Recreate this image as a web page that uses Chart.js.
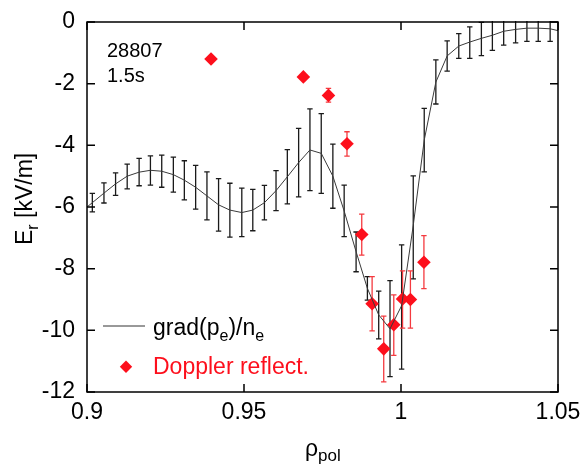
<!DOCTYPE html>
<html>
<head>
  <meta charset="UTF-8">
  <title>Er profile</title>
  <script src="https://cdn.jsdelivr.net/npm/chart.js"></script>
  <style>
    body { margin: 0; background: #fff; }
    canvas { display: block; }
  </style>
</head>
<body>
  <canvas id="erChart" width="581" height="466"></canvas>
  <script>
    // grad(pe)/ne line (includes the two edge points)
    const lineRho = [0.9, 0.9017, 0.9054, 0.9091, 0.9128, 0.9166, 0.9202, 0.9238, 0.9275, 0.9310, 0.9346,
      0.9382, 0.9419, 0.9455, 0.9493, 0.9528, 0.9565, 0.9602, 0.9638, 0.9674, 0.9710,
      0.9746, 0.9783, 0.9819, 0.9857, 0.9893, 0.9929, 0.9965, 1.0002, 1.0039, 1.0074,
      1.0111, 1.0147, 1.0184, 1.0219, 1.0256, 1.0291, 1.0327, 1.0365, 1.0401, 1.0437, 1.0475, 1.05];
    const lineEr = [-6.0, -5.86, -5.55, -5.25, -5.0, -4.87, -4.81, -4.84, -4.95, -5.13, -5.36,
      -5.64, -5.93, -6.1, -6.18, -6.1, -5.86, -5.47, -5.02, -4.56, -4.15,
      -4.26, -5.0, -6.13, -7.45, -8.64, -9.5, -9.95, -9.2, -6.6, -3.83,
      -1.95, -1.1, -0.78, -0.65, -0.53, -0.43, -0.3, -0.24, -0.2, -0.2, -0.22, -0.28];

    // error bars of grad(pe)/ne
    const barRho = lineRho.slice(1, -1);
    const barHigh = [-5.56, -5.22, -4.89, -4.61, -4.42, -4.34, -4.32, -4.38, -4.50, -4.65,
      -4.86, -5.08, -5.23, -5.39, -5.43, -5.30, -4.82, -4.14, -3.45, -2.82,
      -2.97, -3.96, -5.29, -6.81, -8.26, -8.73, -8.39, -7.23, -4.99, -2.80,
      -1.23, -0.61, -0.38, -0.16, -0.01, 0.05, 0.15, 0.2, 0.2, 0.2, 0.2];
    const barLow = [-6.16, -5.87, -5.62, -5.41, -5.31, -5.29, -5.36, -5.52, -5.77, -6.07,
      -6.42, -6.78, -6.98, -6.96, -6.77, -6.42, -6.12, -5.90, -5.67, -5.47,
      -5.56, -6.04, -6.96, -8.10, -9.02, -10.28, -11.5, -11.26, -8.33, -4.86,
      -2.66, -1.59, -1.18, -1.18, -1.09, -0.92, -0.75, -0.68, -0.63, -0.63, -0.63];

    // Doppler reflectometry
    const drRho = [0.9395, 0.9689, 0.9769, 0.9828, 0.9875, 0.9908, 0.9945, 0.9977, 1.0005, 1.003, 1.0073];
    const drEr = [-1.2, -1.78, -2.38, -3.95, -6.89, -9.14, -10.6, -9.82, -8.98, -9.0, -7.79];
    const drHigh = [-1.2, -1.78, -2.15, -3.56, -6.23, -8.26, -9.54, -8.85, -8.07, -8.07, -6.93];
    const drLow = [-1.2, -1.78, -2.60, -4.35, -7.56, -10.02, -11.67, -10.81, -9.93, -9.93, -8.65];

    const xTicks = [0.9, 0.95, 1.0, 1.05];
    const xTickLabels = ["0.9", "0.95", "1", "1.05"];
    const yTicks = [-12, -10, -8, -6, -4, -2, 0];
    const yTickLabels = ["-12", "-10", "-8", "-6", "-4", "-2", "0"];

    const FONT = "'Liberation Sans', Arial, sans-serif";
    const RED = "#fd0f1c";

    function errBars(ctx, xs, ys, xsc, xv, hi, lo, color) {
      ctx.strokeStyle = color;
      ctx.lineWidth = 1.3;
      for (let i = 0; i < xv.length; i++) {
        const x = xs.getPixelForValue(xv[i]);
        const y1 = ys.getPixelForValue(hi[i]);
        const y2 = ys.getPixelForValue(lo[i]);
        if (Math.abs(y2 - y1) < 1) continue;
        ctx.beginPath();
        ctx.moveTo(x, y1); ctx.lineTo(x, y2);
        ctx.moveTo(x - 2.7, y1); ctx.lineTo(x + 2.7, y1);
        ctx.moveTo(x - 2.7, y2); ctx.lineTo(x + 2.7, y2);
        ctx.stroke();
      }
    }

    // text with one subscript part: parts = [[text, isSub], ...]
    function subText(ctx, parts, x, y, size, subSize, drop) {
      let cx = x;
      parts.forEach(p => {
        ctx.font = (p[1] ? subSize : size) + "px " + FONT;
        ctx.fillText(p[0], cx, y + (p[1] ? drop : 0));
        cx += ctx.measureText(p[0]).width;
      });
    }

    const decor = {
      id: "decor",
      beforeDatasetsDraw(chart) {
        const ctx = chart.ctx, a = chart.chartArea;
        const xs = chart.scales.x, ys = chart.scales.y;
        ctx.save();
        ctx.beginPath();
        ctx.rect(a.left, a.top - 1, a.right - a.left, a.bottom - a.top + 2);
        ctx.clip();
        errBars(ctx, xs, ys, null, barRho, barHigh, barLow, "#1a1a1a");
        errBars(ctx, xs, ys, null, drRho, drHigh, drLow, "#f43a3f");
        ctx.restore();
      },
      afterDraw(chart) {
        const ctx = chart.ctx, a = chart.chartArea;
        const xs = chart.scales.x, ys = chart.scales.y;
        ctx.save();
        // frame + inward ticks
        ctx.strokeStyle = "#000";
        ctx.lineWidth = 1.5;
        ctx.strokeRect(a.left, a.top, a.right - a.left, a.bottom - a.top);
        ctx.beginPath();
        xTicks.forEach(v => {
          const x = xs.getPixelForValue(v);
          ctx.moveTo(x, a.bottom); ctx.lineTo(x, a.bottom - 8);
          ctx.moveTo(x, a.top); ctx.lineTo(x, a.top + 8);
        });
        yTicks.forEach(v => {
          const y = ys.getPixelForValue(v);
          ctx.moveTo(a.left, y); ctx.lineTo(a.left + 8, y);
          ctx.moveTo(a.right, y); ctx.lineTo(a.right - 8, y);
        });
        ctx.stroke();

        // shot label
        ctx.fillStyle = "#000";
        ctx.textBaseline = "alphabetic";
        ctx.textAlign = "left";
        ctx.font = "20px " + FONT;
        ctx.fillText("28807", 107, 57);
        ctx.fillText("1.5s", 107, 82);

        // legend
        ctx.strokeStyle = "#333";
        ctx.lineWidth = 1;
        ctx.beginPath();
        ctx.moveTo(103, 326); ctx.lineTo(145, 326);
        ctx.stroke();
        subText(ctx, [["grad(p", 0], ["e", 1], [")/n", 0], ["e", 1]], 153, 335, 23, 16, 6);
        ctx.fillStyle = RED;
        ctx.beginPath();
        ctx.moveTo(126, 360.5); ctx.lineTo(132.2, 366.7); ctx.lineTo(126, 372.9); ctx.lineTo(119.8, 366.7);
        ctx.closePath();
        ctx.fill();
        ctx.font = "23px " + FONT;
        ctx.fillText("Doppler reflect.", 153, 374);

        // axis titles
        ctx.fillStyle = "#000";
        subText(ctx, [["\u03c1", 0], ["pol", 1]], 305, 456, 23, 17, 5);
        ctx.translate(32, 245);
        ctx.rotate(-Math.PI / 2);
        subText(ctx, [["E", 0], ["r", 1], [" [kV/m]", 0]], 0, 0, 23, 16, 6);
        ctx.restore();
      }
    };

    new Chart(document.getElementById("erChart"), {
      type: "scatter",
      data: {
        datasets: [
          {
            label: "grad(pe)/ne",
            data: lineRho.map((r, i) => ({ x: r, y: lineEr[i] })),
            showLine: true,
            borderColor: "#3a3a3a",
            borderWidth: 1,
            pointRadius: 0,
            tension: 0
          },
          {
            label: "Doppler reflect.",
            data: drRho.map((r, i) => ({ x: r, y: drEr[i] })),
            pointStyle: "rectRot",
            pointRadius: 6.8,
            pointHoverRadius: 6.8,
            backgroundColor: RED,
            borderWidth: 0
          }
        ]
      },
      options: {
        responsive: false,
        animation: false,
        layout: { padding: { top: 22, right: 23, left: 0, bottom: 0 } },
        plugins: { legend: { display: false }, tooltip: { enabled: false } },
        scales: {
          x: {
            type: "linear",
            min: 0.9, max: 1.05,
            grid: { display: false, drawTicks: false },
            border: { display: false },
            afterBuildTicks: s => { s.ticks = xTicks.map(v => ({ value: v })); },
            afterFit: s => { s.height = 74; s.paddingLeft = 0; s.paddingRight = 0; },
            ticks: {
              padding: 7,
              color: "#000",
              font: { family: FONT, size: 23 },
              callback: v => xTickLabels[xTicks.indexOf(v)]
            }
          },
          y: {
            type: "linear",
            min: -12, max: 0,
            grid: { display: false, drawTicks: false },
            border: { display: false },
            afterBuildTicks: s => { s.ticks = yTicks.map(v => ({ value: v })); },
            afterFit: s => { s.width = 87; s.paddingTop = 0; s.paddingBottom = 0; },
            ticks: {
              padding: 12,
              color: "#000",
              font: { family: FONT, size: 23 },
              callback: v => yTickLabels[yTicks.indexOf(v)]
            }
          }
        }
      },
      plugins: [decor]
    });
  </script>
</body>
</html>
